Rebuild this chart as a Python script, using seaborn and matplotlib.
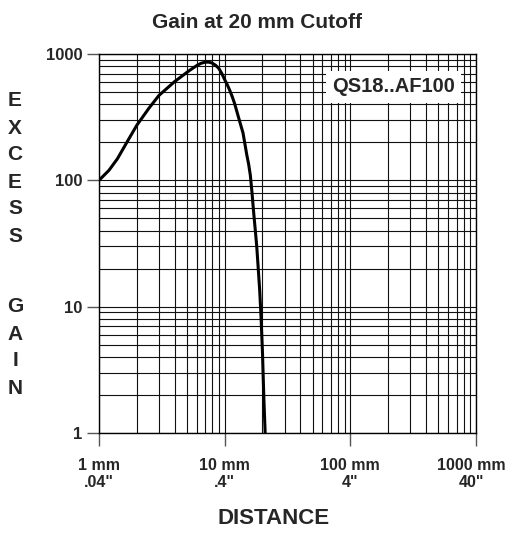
import matplotlib
matplotlib.use("Agg")
import matplotlib.pyplot as plt
import matplotlib.ticker as mticker
import matplotlib.transforms as mtransforms
import numpy as np
import pandas as pd
import seaborn as sns

sns.set_style("white")
plt.rcParams["font.family"] = ["Liberation Sans Narrow", "Liberation Sans", "DejaVu Sans"]
plt.rcParams["font.weight"] = "bold"

# curve (distance in mm, excess gain)
distance = [1.0, 1.2, 1.4, 1.7, 2.0, 2.5, 3.0, 4.0, 5.0, 5.5, 6.0, 6.5, 7.0, 7.5, 8.0, 8.5,
            9.0, 9.5, 10, 10.5, 11, 11.5, 12, 13, 14, 15, 15.5, 16, 16.5, 17, 17.5, 18,
            18.5, 19, 19.5, 20, 20.5, 21]
gain = [100, 120, 148, 207, 273, 373, 470, 605, 715, 765, 810, 845, 862, 862, 845, 812,
        767, 700, 627, 570, 513, 458, 405, 306, 237, 159, 135, 110, 80, 56, 41, 30,
        20, 13.5, 8, 4.3, 1.9, 1.0]

x_ticks = [1, 10, 100, 1000]
x_labels = ["1 mm\n.04\"", "10 mm\n.4\"", "100 mm\n4\"", "1000 mm\n40\""]
y_ticks = [1, 10, 100, 1000]
y_labels = ["1", "10", "100", "1000"]
ylabel_letters = "EXCESS  GAIN"

df = pd.DataFrame({"distance": distance, "gain": gain})

fig = plt.figure(figsize=(5.09, 5.33), dpi=100)
ax = fig.add_axes([99 / 509, 1 - 433 / 533, 377 / 509, 379 / 533])

sns.lineplot(data=df, x="distance", y="gain", ax=ax, color="black", linewidth=2.2,
             sort=False, zorder=5)

ax.set_xscale("log")
ax.set_yscale("log")
ax.set_xlim(1, 1000)
ax.set_ylim(1, 1000)

ax.xaxis.set_minor_locator(mticker.LogLocator(base=10, subs=np.arange(2, 10)))
ax.yaxis.set_minor_locator(mticker.LogLocator(base=10, subs=np.arange(2, 10)))
ax.grid(True, which="both", color="#111111", linewidth=0.8)

ax.set_xticks(x_ticks)
ax.set_xticklabels(x_labels, fontsize=11.5, fontweight="bold", linespacing=1.2)
ax.set_yticks(y_ticks)
ax.set_yticklabels(y_labels, fontsize=12, fontweight="bold")
ax.tick_params(which="major", direction="out", length=9, width=1, color="#555555",
               left=True, bottom=True, pad=3)
ax.tick_params(axis="x", which="major", pad=9)
ax.tick_params(which="minor", length=0)
ax.set_xlabel("")
ax.set_ylabel("")
for s in ax.spines.values():
    s.set_color("black")
    s.set_linewidth(1)

# last x label sits a little left of its tick in the reference
last = ax.get_xticklabels()[-1]
last.set_transform(last.get_transform()
                   + mtransforms.ScaledTranslation(-0.05, 0, fig.dpi_scale_trans))

ax.text(0.782, 0.913, "QS18..AF100", transform=ax.transAxes, ha="center", va="center",
        fontsize=14.5, fontweight="bold", zorder=6,
        bbox=dict(facecolor="white", edgecolor="none", pad=4.5))

fig.text(257 / 509, 1 - 23 / 533, "Gain at 20 mm Cutoff", ha="center", va="center",
         fontsize=15, fontweight="bold")
fig.text(274 / 509, 1 - 519 / 533, "DISTANCE", ha="center", va="center",
         fontsize=16, fontweight="bold")

# stacked vertical axis title
for i, ch in enumerate(ylabel_letters):
    if ch == " ":
        continue
    yy = 101 + i * 27 if i < 6 else 307 + (i - 8) * 27
    fig.text(15 / 509, 1 - yy / 533, ch, ha="center", va="center",
             fontsize=15, fontweight="bold")

fig.savefig("out.png", dpi=100)
